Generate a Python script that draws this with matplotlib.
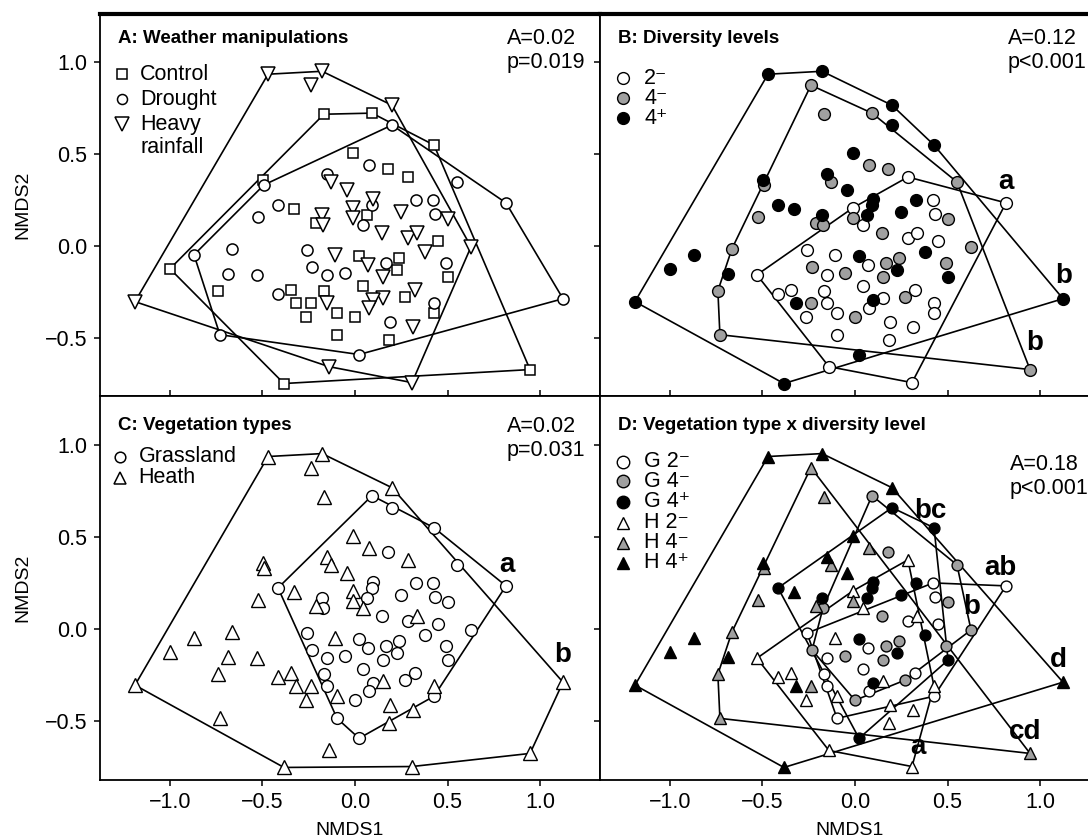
import numpy as np
import matplotlib.pyplot as plt

plt.rcParams['font.family'] = ['Liberation Sans', 'DejaVu Sans']

# NMDS scores of the plots (same ordination in all four panels)
nmds1 = [-0.470, -0.178, -0.238, -0.168, -0.497, -0.492, -0.151, -0.130, 0.200, 0.092,
         0.200, 0.427, 0.551, -0.011, 0.076, 0.178, 0.286, -0.043, 0.097, 0.330, 0.422,
         0.816, -0.416, -0.330, -0.178, -0.211, -0.173, -0.524, -0.665, -0.870, -1.000,
         -1.189, -0.259, -0.108, -0.232, -0.151, -0.686, -0.530, -0.741, -0.416, -0.346,
         -0.319, -0.238, -0.151, -0.168, -0.265, -0.097, -0.097, -0.730, -0.141, -0.384,
         -0.011, 0.092, 0.065, -0.011, 0.043, 0.249, 0.432, 0.503, 0.146, 0.286,
         0.335, 0.449, 0.627, 0.378, 0.022, 0.070, 0.168, 0.238, 0.227, 0.151,
         -0.054, 0.492, 0.503, 0.043, 0.324, 0.270, 0.151, 0.097, 0.076, 0.427,
         0.427, 0.000, 0.189, 0.314, 0.184, 0.022, 0.308, 1.124, 0.946]
nmds2 = [0.935, 0.951, 0.875, 0.717, 0.359, 0.332, 0.391, 0.348, 0.766, 0.723,
         0.658, 0.549, 0.348, 0.505, 0.440, 0.418, 0.375, 0.304, 0.255, 0.250, 0.250,
         0.234, 0.223, 0.201, 0.168, 0.125, 0.114, 0.158, -0.016, -0.049, -0.125,
         -0.304, -0.022, -0.049, -0.114, -0.158, -0.152, -0.158, -0.245, -0.261, -0.239,
         -0.310, -0.310, -0.310, -0.245, -0.386, -0.364, -0.484, -0.484, -0.658, -0.750,
         0.207, 0.223, 0.168, 0.152, 0.114, 0.185, 0.174, 0.147, 0.071, 0.043,
         0.071, 0.027, -0.005, -0.033, -0.054, -0.103, -0.092, -0.065, -0.130, -0.168,
         -0.147, -0.092, -0.168, -0.217, -0.239, -0.277, -0.283, -0.293, -0.337, -0.310,
         -0.364, -0.386, -0.413, -0.440, -0.511, -0.592, -0.745, -0.288, -0.674]
# weather: C control, D drought, H heavy rainfall
weather = ("H H H C C D D H H C "
           "D C D C D C C H H D D "
           "D D C H C H D D D C "
           "H D H D D D D C D C "
           "C C H C C C C D H C "
           "H D C H D H D H H H "
           "H C H H C H D C C H "
           "D D C C H C H H H D "
           "C C D H C D H D C").split()
# vegetation: G grassland, H heath
vegetation = ("H H H H H H H H H G "
              "G G G H H G H H G G G "
              "G G H G H G H H H H "
              "H G H G G H H H H H "
              "H H G G H H G H H H "
              "H G G H H G G G G G "
              "H G G G G G G G G G "
              "G G G G G G H G G H "
              "G G H H H G H H H").split()
# diversity level
diversity = ("4+ 4+ 4- 4- 4+ 4- 4+ 4- 4+ 4- "
             "4+ 4+ 4- 4+ 4- 4- 2- 4+ 4+ 4+ 2- "
             "2- 4+ 4+ 4+ 4- 4- 4- 4- 4+ 4+ "
             "4+ 2- 2- 4- 2- 4+ 2- 4- 2- 2- "
             "4+ 4- 2- 2- 2- 2- 2- 4- 2- 4+ "
             "2- 4+ 4+ 4- 2- 4+ 2- 4- 4- 2- "
             "2- 2- 4- 4+ 4+ 2- 4- 4- 4+ 4- "
             "4- 4- 4+ 2- 2- 4- 2- 4+ 2- 2- "
             "2- 4- 2- 2- 2- 4+ 2- 4+ 4-").split()

weather_groups = ["C", "D", "H"]
weather_names = ["Control", "Drought", "Heavy"]
div_groups = ["2-", "4-", "4+"]
div_names = ["2\u207b", "4\u207b", "4\u207a"]
veg_groups = ["G", "H"]
veg_names = ["Grassland", "Heath"]

stats_A = "A=0.02\np=0.019"
stats_B = "A=0.12\np<0.001"
stats_C = "A=0.02\np=0.031"
stats_D = "A=0.18\np<0.001"

# pairwise letters (x, y, text)
letters_B = [(0.816, 0.35, "a"), (1.13, -0.165, "b"), (0.973, -0.527, "b")]
letters_C = [(0.82, 0.348, "a"), (1.124, -0.141, "b")]
letters_D = [(0.405, 0.64, "bc"), (0.784, 0.33, "ab"), (0.632, 0.12, "b"),
             (1.097, -0.17, "d"), (0.919, -0.56, "cd"), (0.341, -0.64, "a")]

x = np.array(nmds1)
y = np.array(nmds2)
weather = np.array(weather)
vegetation = np.array(vegetation)
diversity = np.array(diversity)
assert len(x) == len(y) == len(weather) == len(vegetation) == len(diversity)

fill = {"2-": "white", "4-": "#a0a0a0", "4+": "black"}
wmark = {"C": "s", "D": "o", "H": "v"}
vmark = {"G": "o", "H": "^"}
wsize = {"C": 7.5, "D": 8, "H": 10.5}
vsize = {"G": 8.5, "H": 10}
LFS = 15.5


def hull(px, py):
    pts = sorted(set(zip(px, py)))
    if len(pts) < 3:
        return pts

    def cross(o, a, b):
        return (a[0] - o[0]) * (b[1] - o[1]) - (a[1] - o[1]) * (b[0] - o[0])
    lower, upper = [], []
    for p in pts:
        while len(lower) >= 2 and cross(lower[-2], lower[-1], p) <= 0:
            lower.pop()
        lower.append(p)
    for p in reversed(pts):
        while len(upper) >= 2 and cross(upper[-2], upper[-1], p) <= 0:
            upper.pop()
        upper.append(p)
    h = lower[:-1] + upper[:-1]
    return h + [h[0]]


def draw_hull(ax, mask):
    h = hull(x[mask], y[mask])
    hx, hy = zip(*h)
    ax.plot(hx, hy, color="black", lw=1.2, zorder=2)


fig = plt.figure(figsize=(10.88, 8.4), dpi=100)
W = 500 / 1088
pos = {"A": [100 / 1088, 444 / 840, W, 382 / 840],
       "B": [600 / 1088, 444 / 840, W, 382 / 840],
       "C": [100 / 1088, 60 / 840, W, 384 / 840],
       "D": [600 / 1088, 60 / 840, W, 384 / 840]}
axes = {}
for k, p in pos.items():
    ax = fig.add_axes(p)
    ax.set_xlim(-1.378, 1.324)
    ax.set_ylim(-0.818, 1.263)
    ax.set_xticks([-1.0, -0.5, 0.0, 0.5, 1.0])
    ax.set_yticks([-0.5, 0.0, 0.5, 1.0])
    ax.set_xticklabels(["\u22121.0", "\u22120.5", "0.0", "0.5", "1.0"])
    ax.set_yticklabels(["\u22120.5", "0.0", "0.5", "1.0"])
    top = k in "AB"
    left = k in "AC"
    ax.tick_params(direction="out", length=4, width=1.1, labelsize=15.5, pad=5,
                   top=not top, bottom=True, left=True, right=left,
                   labelbottom=not top, labelleft=left)
    for s in ax.spines.values():
        s.set_linewidth(1.3)
    ax.spines["top"].set_linewidth(3 if top else 1.3)
    axes[k] = ax

# A: weather
ax = axes["A"]
for g in weather_groups:
    draw_hull(ax, weather == g)
for g in weather_groups:
    m = weather == g
    ax.plot(x[m], y[m], ls="none", marker=wmark[g], ms=wsize[g], mfc="white",
            mec="black", mew=1.1, zorder=3)
for g, name, yy in zip(weather_groups, weather_names, [0.935, 0.799, 0.663]):
    ax.plot([-1.26], [yy], ls="none", marker=wmark[g], ms=wsize[g] * 0.9,
            mfc="white", mec="black", mew=1.1)
    ax.text(-1.16, yy, name, fontsize=LFS, va="center")
ax.text(-1.16, 0.538, "rainfall", fontsize=LFS, va="center")

# B: diversity
ax = axes["B"]
for g in div_groups:
    draw_hull(ax, diversity == g)
for g in div_groups:
    m = diversity == g
    ax.plot(x[m], y[m], ls="none", marker="o", ms=8.5, mfc=fill[g],
            mec="black", mew=1.0, zorder=3)
for g, name, yy in zip(div_groups, div_names, [0.913, 0.804, 0.696]):
    ax.plot([-1.254], [yy], ls="none", marker="o", ms=8.5, mfc=fill[g], mec="black", mew=1.0)
    ax.text(-1.14, yy, name, fontsize=LFS, va="center")
for lx, lyy, t in letters_B:
    ax.text(lx, lyy, t, fontsize=20, fontweight="bold", ha="center", va="center", zorder=4)

# C: vegetation
ax = axes["C"]
for g in veg_groups:
    draw_hull(ax, vegetation == g)
for g in veg_groups:
    m = vegetation == g
    ax.plot(x[m], y[m], ls="none", marker=vmark[g], ms=vsize[g], mfc="white",
            mec="black", mew=1.0, zorder=3)
for g, name, yy in zip(veg_groups, veg_names, [0.935, 0.82]):
    ax.plot([-1.27], [yy], ls="none", marker=vmark[g], ms=vsize[g] * 0.9,
            mfc="white", mec="black", mew=1.1)
    ax.text(-1.17, yy, name, fontsize=LFS, va="center")
for lx, lyy, t in letters_C:
    ax.text(lx, lyy, t, fontsize=20, fontweight="bold", ha="center", va="center", zorder=4)

# D: vegetation x diversity
ax = axes["D"]
for v in veg_groups:
    for g in div_groups:
        m = (vegetation == v) & (diversity == g)
        if m.sum() >= 3:
            draw_hull(ax, m)
for v in veg_groups:
    for g in div_groups:
        m = (vegetation == v) & (diversity == g)
        ax.plot(x[m], y[m], ls="none", marker=vmark[v], ms=vsize[v] * 0.92,
                mfc=fill[g], mec="black", mew=1.0, zorder=3)
dy = [0.907, 0.80, 0.690, 0.576, 0.467, 0.358]
i = 0
for v in veg_groups:
    for g, name in zip(div_groups, div_names):
        ax.plot([-1.254], [dy[i]], ls="none", marker=vmark[v], ms=9,
                mfc=fill[g], mec="black", mew=1.0)
        ax.text(-1.14, dy[i], v + " " + name, fontsize=LFS, va="center")
        i += 1
for lx, lyy, t in letters_D:
    ax.text(lx, lyy, t, fontsize=20, fontweight="bold", ha="center", va="center", zorder=4)

titles = {"A": "A: Weather manipulations", "B": "B: Diversity levels",
          "C": "C: Vegetation types", "D": "D: Vegetation type x diversity level"}
for k, t in titles.items():
    axes[k].text(0.036, 0.958 if k in "AB" else 0.945, t, transform=axes[k].transAxes,
                 fontsize=13.5, fontweight="bold", va="top")

sfs = 15.5
stat_pos = {"A": (0.814, 0.904, stats_A), "B": (0.816, 0.904, stats_B),
            "C": (0.814, 0.889, stats_C), "D": (0.82, 0.79, stats_D)}
for k, (sx, sy, s) in stat_pos.items():
    axes[k].text(sx, sy, s, transform=axes[k].transAxes, fontsize=sfs,
                 va="center", linespacing=1.2)

axes["A"].set_ylabel("NMDS2", fontsize=14, labelpad=10)
axes["C"].set_ylabel("NMDS2", fontsize=14, labelpad=10)
axes["C"].set_xlabel("NMDS1", fontsize=14, labelpad=6)
axes["D"].set_xlabel("NMDS1", fontsize=14, labelpad=6)

fig.savefig("out.png", dpi=100)
